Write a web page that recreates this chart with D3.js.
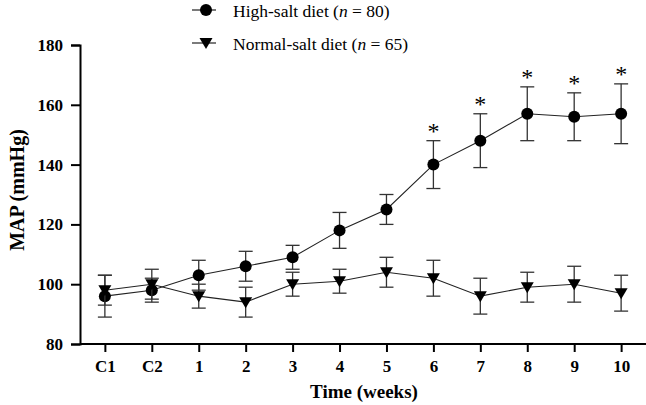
<!DOCTYPE html>
<html>
<head>
<meta charset="utf-8">
<script src="https://cdn.jsdelivr.net/npm/d3@7"></script>
<style>
  body { margin: 0; background: #fff; }
  svg text { font-family: "Liberation Serif", "Times New Roman", serif; fill: #000; }
</style>
</head>
<body>
<div id="container"></div>
<script>
var w = 646
var h = 405

// data
var timepoints = ["C1", "C2", "1", "2", "3", "4", "5", "6", "7", "8", "9", "10"]
var highSalt = [96, 98, 103, 106, 109, 118, 125, 140, 148, 157, 156, 157]
var highSaltErr = [7, 4, 5, 5, 4, 6, 5, 8, 9, 9, 8, 10]
var normalSalt = [98, 100, 96, 94, 100, 101, 104, 102, 96, 99, 100, 97]
var normalSaltErr = [5, 5, 4, 5, 4, 4, 5, 6, 6, 5, 6, 6]
var significant = ["6", "7", "8", "9", "10"]
var yTicks = [80, 100, 120, 140, 160, 180]

var serif = "'Liberation Serif', 'Times New Roman', serif"

var svg = d3.select("#container").append("svg")
    .attr("width", w)
    .attr("height", h)

var x = d3.scalePoint().domain(timepoints).range([80, 646]).padding(0.53)
var y = d3.scaleLinear().domain([80, 180]).range([344, 45])

// axes
var yAxis = svg.append("g")
    .attr("transform", "translate(80,0)")
    .call(d3.axisLeft(y).tickValues(yTicks).tickSize(9).tickPadding(8))
yAxis.select(".domain").attr("stroke-width", 2)
yAxis.selectAll(".tick line").attr("stroke-width", 2)
yAxis.selectAll(".tick text")
    .style("font-size", "17px").style("font-weight", "bold")
    .style("font-family", serif)

var xAxis = svg.append("g")
    .attr("transform", "translate(0,344)")
    .call(d3.axisBottom(x).tickSize(8).tickPadding(8).tickSizeOuter(0))
xAxis.select(".domain").attr("stroke-width", 2).attr("d", "M80,0H646")
xAxis.selectAll(".tick line").attr("stroke-width", 2)
xAxis.selectAll(".tick text")
    .style("font-size", "17px").style("font-weight", "bold")
    .style("font-family", serif)

// axis titles
svg.append("text")
    .attr("transform", "translate(24,190) rotate(-90)")
    .attr("text-anchor", "middle")
    .style("font-size", "20px").style("font-weight", "bold")
    .text("MAP (mmHg)")

svg.append("text")
    .attr("x", 364).attr("y", 398)
    .attr("text-anchor", "middle")
    .style("font-size", "19px").style("font-weight", "bold")
    .text("Time (weeks)")

var series = [
    { name: "High-salt diet", n: 80, values: highSalt, err: highSaltErr, shape: "circle" },
    { name: "Normal-salt diet", n: 65, values: normalSalt, err: normalSaltErr, shape: "triangle" }
]

var tri = "M-6.5,-5L6.5,-5L0,6Z"
var line = d3.line().x(function (d, i) { return x(timepoints[i]) }).y(function (d) { return y(d) })

series.forEach(function (s) {
    var g = svg.append("g")

    // error bars
    var eb = g.selectAll(".err")
        .data(s.values)
        .enter()
        .append("g")
        .attr("stroke", "#333")
        .attr("stroke-width", 1.3)
    eb.append("line")
        .attr("x1", function (d, i) { return x(timepoints[i]) })
        .attr("x2", function (d, i) { return x(timepoints[i]) })
        .attr("y1", function (d, i) { return y(d + s.err[i]) })
        .attr("y2", function (d, i) { return y(d - s.err[i]) })
    eb.append("line")
        .attr("x1", function (d, i) { return x(timepoints[i]) - 7 })
        .attr("x2", function (d, i) { return x(timepoints[i]) + 7 })
        .attr("y1", function (d, i) { return y(d + s.err[i]) })
        .attr("y2", function (d, i) { return y(d + s.err[i]) })
    eb.append("line")
        .attr("x1", function (d, i) { return x(timepoints[i]) - 7 })
        .attr("x2", function (d, i) { return x(timepoints[i]) + 7 })
        .attr("y1", function (d, i) { return y(d - s.err[i]) })
        .attr("y2", function (d, i) { return y(d - s.err[i]) })

    g.append("path")
        .attr("d", line(s.values))
        .attr("fill", "none")
        .attr("stroke", "#222")
        .attr("stroke-width", 1.1)

    if (s.shape == "circle") {
        g.selectAll("circle")
            .data(s.values)
            .enter()
            .append("circle")
            .attr("cx", function (d, i) { return x(timepoints[i]) })
            .attr("cy", function (d) { return y(d) })
            .attr("r", 6)
            .attr("fill", "#000")
    } else {
        g.selectAll(".tri")
            .data(s.values)
            .enter()
            .append("path")
            .attr("d", tri)
            .attr("transform", function (d, i) { return "translate(" + x(timepoints[i]) + "," + y(d) + ")" })
            .attr("fill", "#000")
    }
})

// significance asterisks
svg.selectAll(".star")
    .data(significant)
    .enter()
    .append("text")
    .attr("x", function (d) { return x(d) })
    .attr("y", function (d) {
        var i = timepoints.indexOf(d)
        return y(highSalt[i] + highSaltErr[i]) - 2
    })
    .attr("text-anchor", "middle")
    .style("font-size", "24px")
    .text("*")

// legend
var legend = svg.append("g")
series.forEach(function (s, k) {
    var ly = 10 + k * 33
    legend.append("line")
        .attr("x1", 192).attr("x2", 216)
        .attr("y1", ly).attr("y2", ly)
        .attr("stroke", "#222").attr("stroke-width", 1.2)
    if (s.shape == "circle") {
        legend.append("circle").attr("cx", 206).attr("cy", ly).attr("r", 6).attr("fill", "#000")
    } else {
        legend.append("path").attr("d", tri).attr("transform", "translate(206," + ly + ")").attr("fill", "#000")
    }
    var t = legend.append("text")
        .attr("x", 233).attr("y", ly + 7)
        .style("font-size", "17.5px")
    t.append("tspan").text(s.name + " (")
    t.append("tspan").style("font-style", "italic").text("n")
    t.append("tspan").text(" = " + s.n + ")")
})
</script>
</body>
</html>
